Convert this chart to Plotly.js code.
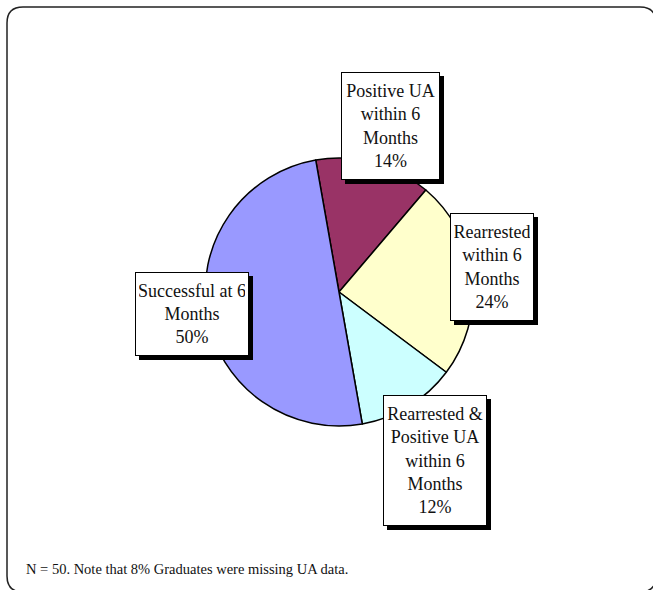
<!DOCTYPE html>
<html>
<head>
<meta charset="utf-8">
<script src="https://cdn.plot.ly/plotly-3.0.1.min.js"></script>
<style>
  html, body { margin: 0; padding: 0; background: #fff; }
  #chart { width: 653px; height: 590px; }
</style>
</head>
<body>
<div id="chart"></div>
<script>
// slice data, clockwise from just left of 12 o'clock
const outcomes = [
    'Positive UA<br>within 6<br>Months',
    'Rearrested<br>within 6<br>Months',
    'Rearrested &<br>Positive UA<br>within 6<br>Months',
    'Successful at 6<br>Months'
];
const percents = [14, 24, 12, 50];
const sliceColors = ['#993366', '#FFFFCC', '#CCFFFF', '#9999FF'];
const footnote = 'N = 50. Note that 8% Graduates were missing UA data.';

(function () {
    const W = 653, H = 590;
    const cx = 339, cy = 292, r = 134;
    const startAngle = -10;
    // label placement: distance from centre, small turn off the mid-angle, outer box size
    const labelDist = [174, 155, 194, 149];
    const labelTurn = [2, -3, 2, 1.5];
    const labelBox = [[99, 108], [84, 108], [104, 131], [114, 84]];
    const pad = 3, bw = 1;
    const serif = 'Liberation Serif, Times New Roman, serif';

    const px = (x) => x / W;
    const py = (y) => 1 - y / H;

    const total = percents.reduce((a, b) => a + b, 0);
    let acc = startAngle;
    const shadows = [];
    const boxes = [];
    percents.forEach(function (v, i) {
        const span = v / total * 360;
        const mid = (acc + span / 2 + labelTurn[i]) * Math.PI / 180;
        acc += span;
        const base = {
            x: px(cx + labelDist[i] * Math.sin(mid)),
            y: py(cy - labelDist[i] * Math.cos(mid)),
            xref: 'paper', yref: 'paper',
            xanchor: 'center', yanchor: 'middle',
            showarrow: false, align: 'center', valign: 'middle',
            width: labelBox[i][0] - 2 * (pad + bw),
            height: labelBox[i][1] - 2 * (pad + bw),
            borderpad: pad, borderwidth: bw,
            font: {family: serif, size: 18, color: '#111'},
        };
        shadows.push(Object.assign({}, base, {
            text: ' ', xshift: 4, yshift: -4,
            bgcolor: '#000', bordercolor: '#000',
        }));
        boxes.push(Object.assign({}, base, {
            text: outcomes[i] + '<br>' + v + '%',
            bgcolor: '#fff', bordercolor: '#000',
        }));
    });

    // rounded outer frame, partly cut off at right and bottom
    const x0 = 7, y0 = 7, x1 = 656, y1 = 592, rad = 16;
    const P = (x, y) => px(x) + ',' + py(y);
    const frame = 'M' + P(x0 + rad, y0) + ' L' + P(x1 - rad, y0) +
        ' Q' + P(x1, y0) + ' ' + P(x1, y0 + rad) +
        ' L' + P(x1, y1 - rad) + ' Q' + P(x1, y1) + ' ' + P(x1 - rad, y1) +
        ' L' + P(x0 + rad, y1) + ' Q' + P(x0, y1) + ' ' + P(x0, y1 - rad) +
        ' L' + P(x0, y0 + rad) + ' Q' + P(x0, y0) + ' ' + P(x0 + rad, y0) + ' Z';

    const trace = {
        type: 'pie',
        labels: outcomes,
        values: percents,
        sort: false,
        direction: 'clockwise',
        rotation: startAngle,
        textinfo: 'none',
        hoverinfo: 'skip',
        marker: {colors: sliceColors, line: {color: '#000', width: 1.5}},
        domain: {x: [px(cx - r), px(cx + r)], y: [py(cy + r), py(cy - r)]},
    };

    const layout = {
        width: W,
        height: H,
        margin: {l: 0, r: 0, t: 0, b: 0},
        paper_bgcolor: '#fff',
        showlegend: false,
        shapes: [{
            type: 'path', xref: 'paper', yref: 'paper', path: frame,
            line: {color: '#222', width: 1.5}, fillcolor: 'rgba(0,0,0,0)',
        }],
        annotations: shadows.concat(boxes).concat([{
            x: px(24), y: py(569), xref: 'paper', yref: 'paper',
            xanchor: 'left', yanchor: 'middle', showarrow: false,
            text: footnote,
            font: {family: serif, size: 14.5, color: '#111'},
        }]),
    };

    Plotly.newPlot('chart', [trace], layout, {displayModeBar: false, staticPlot: true});
})();
</script>
</body>
</html>
